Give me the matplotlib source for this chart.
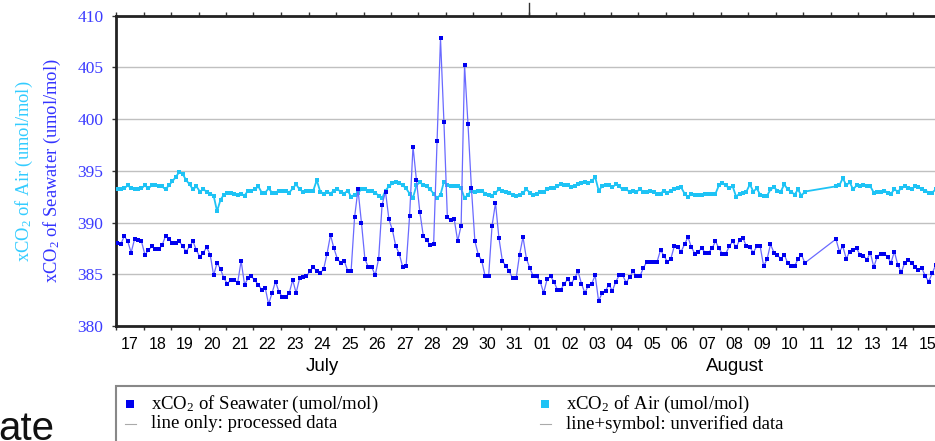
import matplotlib
matplotlib.use("Agg")
import matplotlib.pyplot as plt
import numpy as np
from matplotlib.lines import Line2D
from matplotlib.patches import Rectangle

plt.rcParams['mathtext.fontset'] = 'custom'
plt.rcParams['mathtext.rm'] = 'Liberation Serif'
plt.rcParams['mathtext.it'] = 'Liberation Serif:italic'

# days since 17 July 00:00, 3-hourly samples, one gap on 11 Aug
step = 0.125
start1 = 0.05
start2 = 26.18

sea1 = [
    388.0, 387.9, 388.7, 388.2, 387.1, 388.4, 388.3, 388.2, 386.9, 387.3,
    387.7, 387.4, 387.4, 387.8, 388.7, 388.45, 388.0, 388.0, 388.2, 387.7,
    387.2, 387.7, 388.2, 387.3, 386.7, 387.1, 387.6, 386.9, 384.9, 386.1,
    385.5, 384.6, 384.1, 384.45, 384.45, 384.2, 386.3, 384.0, 384.6, 384.8,
    384.4, 384.0, 383.5, 383.7, 382.1, 383.2, 384.3, 383.3, 382.8, 382.8,
    383.2, 384.45, 383.2, 384.6, 384.7, 384.8, 385.3, 385.7, 385.3, 385.1,
    385.5, 387.0, 388.8, 387.5, 386.5, 386.1, 386.3, 385.35, 385.35, 390.5,
    393.2, 390.0, 386.5, 385.7, 385.7, 384.9, 386.5, 391.7, 393.0, 390.3,
    389.3, 387.7, 387.0, 385.7, 385.8, 390.6, 397.35, 394.1, 391.0, 388.7,
    388.3, 387.8, 387.9, 397.9, 407.8, 399.7, 390.5, 390.2, 390.3, 388.2,
    389.7, 405.2, 399.5, 393.3, 388.2, 386.9, 386.3, 384.8, 384.8, 389.7,
    391.9, 388.5, 386.3, 385.8, 385.3, 384.6, 384.6, 386.9, 388.6, 386.5,
    385.6, 384.8, 384.8, 384.3, 383.2, 384.5, 384.8, 384.3, 383.5, 383.5,
    384.1, 384.5, 384.1, 384.6, 385.3, 384.1, 383.2, 383.9, 384.1, 384.9,
    382.4, 383.2, 383.4, 384.0, 383.4, 384.3, 384.9, 384.9, 384.2, 384.7,
    385.3, 384.8, 384.8, 385.6, 386.2, 386.2, 386.2, 386.2, 387.35, 386.8,
    386.2, 386.5, 387.7, 387.6, 387.2, 387.9, 388.6, 387.6, 387.0, 387.2,
    387.5, 387.1, 387.1, 387.5, 388.2, 387.5, 387.0, 387.0, 387.7, 388.2,
    387.6, 388.3, 388.5, 387.7, 387.6, 387.1, 387.7, 387.7, 385.8, 386.45,
    387.9, 387.1, 386.9, 386.45, 386.9, 386.1, 385.8, 385.8, 386.45, 386.9,
    386.1,
]
sea2 = [
    388.4, 387.2, 387.7, 386.5, 387.2, 387.3, 387.5, 386.9, 386.8, 386.4,
    387.1, 385.7, 386.7, 387.0, 387.0, 386.7, 386.1, 387.2, 385.9, 385.2,
    386.1, 386.4, 386.1, 385.7, 385.4, 385.6, 384.8, 384.3, 385.1, 385.9,
]
air1 = [
    393.2, 393.2, 393.3, 393.6, 393.3, 393.2, 393.2, 393.3, 393.6, 393.3,
    393.6, 393.6, 393.5, 393.5, 393.2, 393.6, 394.0, 394.4, 394.9, 394.7,
    394.1, 393.7, 393.2, 393.5, 393.0, 393.2, 393.0, 392.8, 392.6, 391.1,
    392.2, 392.7, 392.9, 392.9, 392.8, 392.7, 392.8, 392.6, 393.1, 393.1,
    393.2, 393.5, 392.9, 392.9, 393.3, 392.9, 392.9, 393.1, 393.1, 393.1,
    392.9, 393.3, 393.7, 393.2, 393.0, 393.1, 393.1, 393.1, 394.1, 393.0,
    392.8, 393.0, 392.8, 393.1, 393.2, 393.0, 392.8, 393.1, 392.5, 392.7,
    392.9, 393.2, 393.2, 393.1, 393.1, 392.9, 392.6, 392.35, 393.1, 393.5,
    393.8, 393.9, 393.8, 393.6, 393.3, 392.8, 392.4, 393.6, 393.9, 393.6,
    393.5, 393.2, 392.8, 392.35, 392.7, 393.95, 393.6, 393.5, 393.5, 393.5,
    393.3, 392.35, 392.7, 393.1, 393.0, 393.1, 393.1, 392.8, 392.7, 392.6,
    392.9, 393.2, 393.1, 393.0, 392.9, 392.7, 392.6, 392.7, 392.9, 393.2,
    392.9, 392.7, 392.8, 393.0, 393.0, 393.2, 393.3, 393.3, 393.5, 393.7,
    393.6, 393.6, 393.4, 393.5, 393.7, 393.8, 393.9, 393.8, 394.0, 394.4,
    393.1, 393.5, 393.6, 393.6, 393.4, 393.7, 393.5, 393.2, 393.2, 393.0,
    393.1, 393.0, 393.2, 393.0, 393.0, 393.1, 393.0, 392.8, 392.8, 393.1,
    392.9, 393.1, 393.2, 393.3, 393.4, 392.8, 392.45, 392.8, 392.7, 392.7,
    392.7, 392.8, 392.8, 392.8, 392.8, 393.6, 393.8, 393.6, 393.3, 393.5,
    392.5, 392.8, 392.9, 393.0, 393.7, 393.0, 393.3, 392.7, 392.6, 392.6,
    393.2, 393.4, 393.1, 393.0, 393.7, 393.2, 393.0, 392.7, 393.2, 392.6,
    393.0,
]
air2 = [
    393.5, 393.6, 394.3, 393.6, 393.9, 393.2, 393.6, 393.5, 393.6, 393.5,
    393.5, 392.9, 393.0, 393.0, 393.1, 392.9, 392.8, 393.2, 393.0, 393.3,
    393.5, 393.3, 393.2, 393.5, 393.4, 393.2, 393.1, 392.9, 392.9, 393.2,
]

day_labels = ['17', '18', '19', '20', '21', '22', '23', '24', '25', '26', '27',
              '28', '29', '30', '31', '01', '02', '03', '04', '05', '06', '07',
              '08', '09', '10', '11', '12', '13', '14', '15']
months = ['July', 'August']
month_days = [15, 15]
yticks = [380, 385, 390, 395, 400, 405, 410]

t_sea = np.concatenate([start1 + step * np.arange(len(sea1)),
                        start2 + step * np.arange(len(sea2))])
t_air = np.concatenate([start1 + step * np.arange(len(air1)),
                        start2 + step * np.arange(len(air2))])
sea = np.array(sea1 + sea2)
air = np.array(air1 + air2)

W, H = 935, 441
fig = plt.figure(figsize=(W / 100, H / 100), dpi=100)
def fx(x): return x / W
def fy(y): return 1 - y / H

ax = fig.add_axes([fx(116), fy(326), (941 - 116) / W, (326 - 15.7) / H])

BLUE = '#0000ee'
CYAN = '#1ec3f5'
serif = 'Liberation Serif'
sans = 'Liberation Sans'

ax.plot(t_air, air, color=CYAN, lw=1.3, marker='s', ms=2.8, mew=0, zorder=3)
ax.plot(t_sea, sea, color='#6a6aff', lw=0.9, marker='s', ms=2.6, mew=0,
        mfc=BLUE, zorder=4)

ax.set_xlim(0, len(day_labels))
ax.set_ylim(380, 410)
ax.set_yticks(yticks)
ax.set_yticklabels([str(v) for v in yticks], family=serif, fontsize=12.5,
                   color='#3c3cff')
ax.tick_params(axis='y', direction='out', length=3, width=1, color='#333', pad=6)
ax.yaxis.grid(True, color='#c0c0c0', lw=1)
ax.set_axisbelow(True)

# tick marks at day boundaries, labels at mid-day
ax.set_xticks(np.arange(0, len(day_labels) + 1))
ax.set_xticklabels([])
ax.set_xticks(np.arange(len(day_labels)) + 0.5, minor=True)
ax.set_xticklabels(day_labels, minor=True, family=sans, fontsize=11.5)
ax.tick_params(axis='x', which='major', direction='out', length=3, width=1,
               color='#333', top=True)
ax.tick_params(axis='x', which='minor', length=0, pad=8)

ax.plot([month_days[0], month_days[0]], [410, 411.2], color='#333', lw=1,
        clip_on=False)

start = 0
for name, n in zip(months, month_days):
    ax.text(start + n / 2, -0.13, name, transform=ax.get_xaxis_transform(),
            ha='center', va='center', family=sans, fontsize=13.5)
    start += n

for s in ['left', 'bottom', 'top']:
    ax.spines[s].set_linewidth(2)
    ax.spines[s].set_color('#222')

fig.text(fx(24), fy(171), 'xCO$_2$ of Air (umol/mol)', rotation=90,
         ha='center', va='center', color='#33ccff', family=serif, fontsize=13.3)
fig.text(fx(52), fy(171), 'xCO$_2$ of Seawater (umol/mol)', rotation=90,
         ha='center', va='center', color='#3333ff', family=serif, fontsize=13.3)

# legend box
fig.add_artist(Rectangle((fx(116), fy(470)), 1.0, (470 - 386) / H,
                         transform=fig.transFigure, facecolor='white',
                         edgecolor='#888', lw=1.5))
leg = [
    (130, 404, BLUE, 'xCO$_2$ of Seawater (umol/mol)', 'line only: processed data'),
    (545, 404, CYAN, 'xCO$_2$ of Air (umol/mol)', 'line+symbol: unverified data'),
]
for x, y, c, t1, t2 in leg:
    fig.add_artist(Line2D([fx(x)], [fy(y)], marker='s', ms=6, color=c, mew=0,
                          transform=fig.transFigure))
    fig.add_artist(Line2D([fx(x - 5), fx(x + 6)], [fy(y + 20)] * 2, color='#aaa',
                          lw=0.8, transform=fig.transFigure))
    fig.text(fx(x + 21), fy(y), t1, va='center', family=serif, fontsize=13.5)
    fig.text(fx(x + 21), fy(y + 20), t2, va='center', family=serif, fontsize=13.5)

fig.text(fx(-2), fy(440), 'ate', family=sans, fontsize=29, color='#111',
         va='baseline')

fig.savefig('out.png', dpi=100)
